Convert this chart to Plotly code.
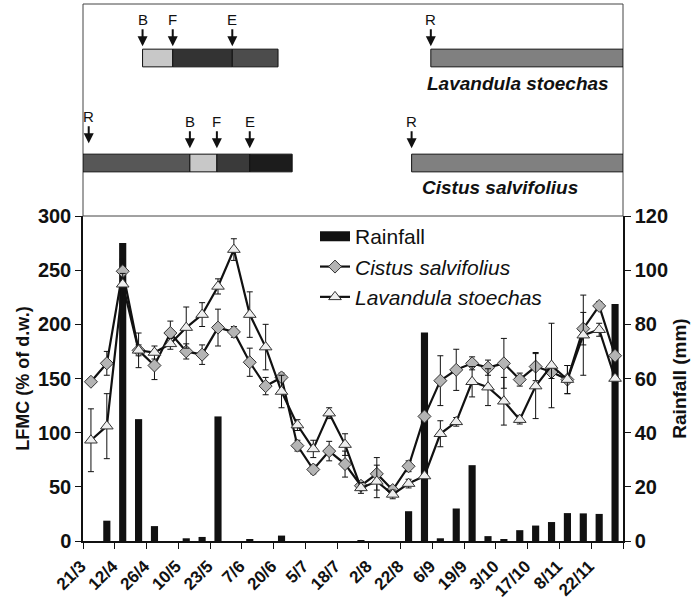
import plotly.graph_objects as go

# ---------------- data ----------------
date_labels = ["21/3", "12/4", "26/4", "10/5", "23/5", "7/6", "20/6", "5/7", "18/7",
               "2/8", "22/8", "6/9", "19/9", "3/10", "17/10", "8/11", "22/11"]
n_samples = 34
sample_idx = list(range(n_samples))

cistus = [147, 164, 249, 176, 162, 192, 175, 172, 197, 193, 165, 143, 151, 88, 66, 83, 71,
          51, 62, 47, 69, 115, 148, 158, 164, 160, 164, 149, 161, 156, 149, 196, 217, 171]
cistus_err = [3, 11, 11, 5, 13, 11, 7, 9, 17, 5, 13, 8, 4, 5, 4, 9, 12,
              4, 15, 4, 5, 4, 23, 19, 6, 7, 23, 6, 13, 6, 13, 15, 4, 4]
lavandula = [93, 106, 237, 176, 174, 182, 197, 209, 235, 269, 209, 179, 138, 107, 85, 118, 89,
             49, 55, 43, 53, 60, 99, 110, 147, 142, 129, 112, 143, 162, 149, 190, 195, 150]
lavandula_err = [29, 30, 10, 16, 6, 5, 19, 11, 7, 10, 21, 21, 15, 5, 8, 5, 10,
                 5, 15, 4, 4, 4, 12, 4, 14, 17, 22, 4, 30, 39, 13, 37, 6, 4]
rainfall = [0, 7.5, 110, 45, 5.5, 0, 1, 1.5, 46, 0, 0.4, 0, 2, 0, 0, 0, 0,
            0.3, 0, 0, 11, 77, 1, 12, 28, 1.8, 0.7, 4, 5.7, 7, 10.3, 10.2, 10, 87.5]

# phenology (positions on the sample axis): start, end, colour
lav_pheno_start = [3.25, 5.15, 8.9, 21.4]
lav_pheno_end = [5.15, 8.9, 11.78, 33.5]
lav_pheno_col = ["#c8c8c8", "#333333", "#4c4c4c", "#808080"]
lav_events = ["B", "F", "E", "R"]
lav_event_pos = [3.25, 5.15, 8.9, 21.4]

cis_pheno_start = [-0.5, 6.23, 7.93, 10.0, 20.19]
cis_pheno_end = [6.23, 7.93, 10.0, 12.67, 33.5]
cis_pheno_col = ["#575757", "#c8c8c8", "#3a3a3a", "#1c1c1c", "#808080"]
cis_events = ["R", "B", "F", "E", "R"]
cis_event_pos = [-0.14, 6.23, 7.93, 10.0, 20.19]

FONT = "Arial, Liberation Sans, sans-serif"
main_top = 325 / 537

fig = go.Figure()

fig.add_trace(go.Bar(x=sample_idx, y=rainfall, name="Rainfall", yaxis="y", xaxis="x",
                     width=0.45, showlegend=False,
                     marker=dict(color="#111111", line=dict(width=0))))
# legend entry for rainfall drawn as a wide block
fig.add_trace(go.Scatter(x=[None], y=[None], name="Rainfall", yaxis="y", mode="lines",
                         line=dict(color="#111111", width=14)))
fig.add_trace(go.Scatter(x=sample_idx, y=cistus, name="<i>Cistus salvifolius</i>", yaxis="y2",
                         mode="lines+markers",
                         line=dict(color="#111111", width=2.2),
                         marker=dict(symbol="diamond", size=10, color="#b4b4b4",
                                     line=dict(color="#333333", width=1)),
                         error_y=dict(type="data", array=cistus_err, color="#111111",
                                      thickness=1, width=3)))
fig.add_trace(go.Scatter(x=sample_idx, y=lavandula, name="<i>Lavandula stoechas</i>", yaxis="y2",
                         mode="lines+markers",
                         line=dict(color="#111111", width=2.2),
                         marker=dict(symbol="triangle-up", size=11, color="#eeeeee",
                                     line=dict(color="#333333", width=1)),
                         error_y=dict(type="data", array=lavandula_err, color="#111111",
                                      thickness=1, width=3)))

# phenology bars in the top panel
LAV_ROW, CIS_ROW, ROW_W = 158, 53, 17.7
fig.add_trace(go.Bar(orientation="h", x=[e - s for s, e in zip(lav_pheno_start, lav_pheno_end)],
                     base=lav_pheno_start, y=[LAV_ROW] * len(lav_pheno_start), width=ROW_W,
                     xaxis="x", yaxis="y3", showlegend=False, hoverinfo="skip",
                     marker=dict(color=lav_pheno_col, line=dict(color="#111111", width=1))))
fig.add_trace(go.Bar(orientation="h", x=[e - s for s, e in zip(cis_pheno_start, cis_pheno_end)],
                     base=cis_pheno_start, y=[CIS_ROW] * len(cis_pheno_start), width=ROW_W,
                     xaxis="x", yaxis="y3", showlegend=False, hoverinfo="skip",
                     marker=dict(color=cis_pheno_col, line=dict(color="#111111", width=1))))

annotations = []
for lab, pos in zip(lav_events, lav_event_pos):
    annotations.append(dict(x=pos, y=LAV_ROW + ROW_W / 2 + 3, xref="x", yref="y3", text=lab,
                            showarrow=True, arrowhead=2, arrowsize=1, arrowwidth=2,
                            arrowcolor="#111111", ax=0, ay=-27,
                            font=dict(family=FONT, size=15, color="#111111")))
for i, (lab, pos) in enumerate(zip(cis_events, cis_event_pos)):
    tip = CIS_ROW + ROW_W / 2 + (11 if i == 0 else 6)
    annotations.append(dict(x=pos, y=tip, xref="x", yref="y3", text=lab,
                            showarrow=True, arrowhead=2, arrowsize=1, arrowwidth=2,
                            arrowcolor="#111111", ax=0, ay=-27,
                            font=dict(family=FONT, size=15, color="#111111")))
annotations.append(dict(x=(425 - 83) / 540, y=133, xref="paper", yref="y3", xanchor="left",
                        yanchor="middle", showarrow=False,
                        text="<b><i>Lavandula stoechas</i></b>",
                        font=dict(family=FONT, size=19, color="#111111")))
annotations.append(dict(x=(420 - 83) / 540, y=29, xref="paper", yref="y3", xanchor="left",
                        yanchor="middle", showarrow=False,
                        text="<b><i>Cistus salvifolius</i></b>",
                        font=dict(family=FONT, size=19, color="#111111")))

boundary_ticks = [-0.5 + 2 * k for k in range(18)]
tick_text = ["<b>%s</b>" % t for t in date_labels] + [""]

fig.update_layout(
    width=691, height=600,
    margin=dict(l=83, r=68, t=4, b=59, autoexpand=False),
    paper_bgcolor="white", plot_bgcolor="white",
    barmode="overlay",
    font=dict(family=FONT, color="#111111"),
    showlegend=True,
    legend=dict(x=(315 - 83) / 540, y=0.605, xanchor="left", yanchor="top",
                bgcolor="rgba(0,0,0,0)", font=dict(family=FONT, size=21, color="#111111"),
                tracegroupgap=0, itemwidth=30),
    xaxis=dict(range=[-0.5, 33.5], domain=[0, 1], anchor="y", automargin=False,
               tickmode="array", tickvals=boundary_ticks, ticktext=tick_text,
               tickangle=-45, ticks="outside", ticklen=6, tickcolor="#111111",
               ticklabelstandoff=1, ticklabelshift=-2,
               tickfont=dict(family=FONT, size=17, color="#111111"),
               showline=True, linecolor="#111111", linewidth=1.5,
               showgrid=False, zeroline=False),
    yaxis=dict(domain=[0, main_top], range=[0, 120], side="right", anchor="x", automargin=False,
               tickmode="array", tickvals=[0, 20, 40, 60, 80, 100, 120],
               ticktext=["<b>%d</b>" % v for v in [0, 20, 40, 60, 80, 100, 120]],
               ticks="outside", ticklen=6, tickcolor="#111111",
               tickfont=dict(family=FONT, size=20, color="#111111"),
               showline=True, linecolor="#111111", linewidth=1.5,
               showgrid=False, zeroline=False,
               title=dict(text="<b>Rainfall (mm)</b>",
                          font=dict(family=FONT, size=19, color="#111111"), standoff=6)),
    yaxis2=dict(domain=[0, main_top], range=[0, 300], side="left", anchor="x", overlaying="y",
                automargin=False,
                tickmode="array", tickvals=[0, 50, 100, 150, 200, 250, 300],
                ticktext=["<b>%d</b>" % v for v in [0, 50, 100, 150, 200, 250, 300]],
                ticks="outside", ticklen=6, tickcolor="#111111",
                tickfont=dict(family=FONT, size=20, color="#111111"),
                showline=True, linecolor="#111111", linewidth=1.5,
                showgrid=False, zeroline=False,
                title=dict(text="<b>LFMC (% of d.w.)</b>",
                           font=dict(family=FONT, size=18, color="#111111"), standoff=4)),
    yaxis3=dict(domain=[main_top, 1], range=[0, 212], anchor="x", visible=False,
                automargin=False, showgrid=False, zeroline=False),
    annotations=annotations,
    shapes=[dict(type="rect", xref="paper", yref="paper", x0=0, x1=1, y0=main_top, y1=1,
                 line=dict(color="#444444", width=1), fillcolor="rgba(0,0,0,0)", layer="below")],
)

fig.write_html("out.html")
